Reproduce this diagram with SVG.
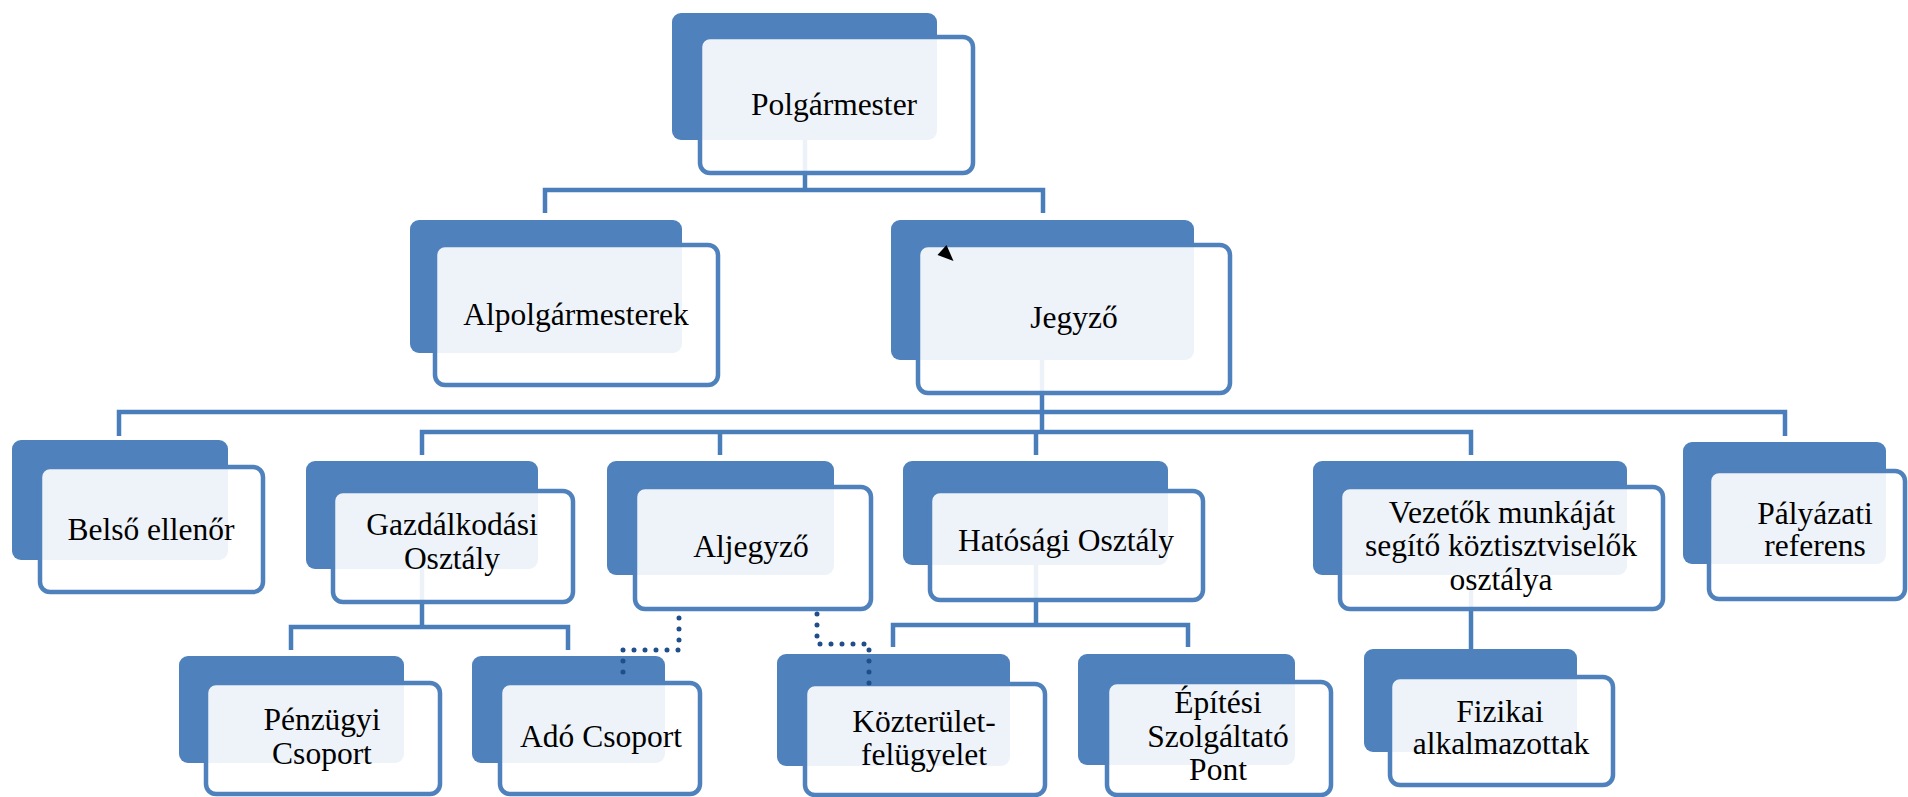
<svg xmlns="http://www.w3.org/2000/svg" width="1908" height="797" viewBox="0 0 1908 797" font-family="Liberation Serif, DejaVu Serif, Noto Serif, Times New Roman, serif">
<style>
.back{fill:#4F81BD;}
.front{fill:#FFFFFF;fill-opacity:0.9;stroke:#4F81BD;stroke-width:4.5;}
.t{font-size:31.5px;fill:#000;text-anchor:middle;}
.conn{fill:none;stroke:#4A7EBB;stroke-width:4.5;}
.dot{fill:none;stroke:#1F4E8A;stroke-width:5;stroke-dasharray:0 11;stroke-linecap:round;}
</style>
<rect width="1908" height="797" fill="#FFFFFF"/>
<g id="connectors">
<path class="conn" d="M805,140 V190"/>
<path class="conn" d="M545,213 V190 H1043 V213"/>
<path class="conn" d="M1042,360 V432"/>
<path class="conn" d="M119,436 V412 H1785 V436"/>
<path class="conn" d="M422,455 V432 H1471 V455"/>
<path class="conn" d="M720,432 V455"/>
<path class="conn" d="M1036,432 V455"/>
<path class="conn" d="M422,569 V627"/>
<path class="conn" d="M291,650 V627 H568 V650"/>
<path class="conn" d="M1036,565 V625"/>
<path class="conn" d="M893,647 V625 H1188 V647"/>
<path class="conn" d="M1471,575 V649"/>
</g>
<g id="polgarmester">
<rect class="back" x="672" y="13" width="265" height="127" rx="9"/>
<rect class="front" x="700" y="37" width="273" height="136" rx="10"/>
<text class="t" x="834" y="115" font-family="Liberation Serif, serif">Polgármester</text>
</g>
<g id="alpolgarmesterek">
<rect class="back" x="410" y="220" width="272" height="133" rx="9"/>
<rect class="front" x="435" y="245" width="283" height="140" rx="10"/>
<text class="t" x="576" y="325">Alpolgármesterek</text>
</g>
<g id="jegyzo">
<rect class="back" x="891" y="220" width="303" height="140" rx="9"/>
<rect class="front" x="918" y="245" width="312" height="148" rx="10"/>
<text class="t" x="1074" y="328">Jegyző</text>
<polygon points="946.5,245 937.5,255 953.5,261" fill="#000"/>
</g>
<g id="belso-ellenor">
<rect class="back" x="12" y="440" width="216" height="120" rx="9"/>
<rect class="front" x="40" y="467" width="223" height="125" rx="10"/>
<text class="t" x="151" y="540">Belső ellenőr</text>
</g>
<g id="gazdalkodasi">
<rect class="back" x="306" y="461" width="232" height="108" rx="9"/>
<rect class="front" x="333" y="491" width="240" height="111" rx="10"/>
<text class="t" x="452" y="535">Gazdálkodási</text>
<text class="t" x="452" y="569">Osztály</text>
</g>
<g id="aljegyzo">
<rect class="back" x="607" y="461" width="227" height="114" rx="9"/>
<rect class="front" x="635" y="487" width="236" height="122" rx="10"/>
<text class="t" x="751" y="557">Aljegyző</text>
</g>
<g id="hatosagi">
<rect class="back" x="903" y="461" width="265" height="104" rx="9"/>
<rect class="front" x="930" y="491" width="273" height="109" rx="10"/>
<text class="t" x="1066" y="551">Hatósági Osztály</text>
</g>
<g id="vezetok">
<rect class="back" x="1313" y="461" width="314" height="114" rx="9"/>
<rect class="front" x="1340" y="487" width="323" height="122" rx="10"/>
<text class="t" x="1502" y="523">Vezetők munkáját</text>
<text class="t" x="1501" y="556">segítő köztisztviselők</text>
<text class="t" x="1501" y="590">osztálya</text>
</g>
<g id="palyazati">
<rect class="back" x="1683" y="442" width="203" height="122" rx="9"/>
<rect class="front" x="1709" y="471" width="196" height="128" rx="10"/>
<text class="t" x="1815" y="524">Pályázati</text>
<text class="t" x="1815" y="556">referens</text>
</g>
<g id="penzugyi">
<rect class="back" x="179" y="656" width="225" height="107" rx="9"/>
<rect class="front" x="206" y="683" width="234" height="111" rx="10"/>
<text class="t" x="322" y="730">Pénzügyi</text>
<text class="t" x="322" y="764">Csoport</text>
</g>
<g id="ado">
<rect class="back" x="472" y="656" width="193" height="107" rx="9"/>
<rect class="front" x="500" y="683" width="200" height="111" rx="10"/>
<text class="t" x="601" y="747">Adó Csoport</text>
</g>
<g id="kozterulet">
<rect class="back" x="777" y="654" width="233" height="112" rx="9"/>
<rect class="front" x="805" y="684" width="240" height="111" rx="10"/>
<text class="t" x="924" y="732">Közterület-</text>
<text class="t" x="924" y="765">felügyelet</text>
</g>
<g id="epitesi">
<rect class="back" x="1078" y="654" width="217" height="111" rx="9"/>
<rect class="front" x="1107" y="682" width="224" height="113" rx="10"/>
<text class="t" x="1218" y="713">Építési</text>
<text class="t" x="1218" y="747">Szolgáltató</text>
<text class="t" x="1218" y="780">Pont</text>
</g>
<g id="fizikai">
<rect class="back" x="1364" y="649" width="213" height="103" rx="9"/>
<rect class="front" x="1390" y="677" width="223" height="108" rx="10"/>
<text class="t" x="1500" y="722">Fizikai</text>
<text class="t" x="1501" y="754">alkalmazottak</text>
</g>
<g id="connectors-dotted">
<path class="dot" d="M679,618 V650 H623 V673"/>
<path class="dot" d="M817,614 V644 H869 V684"/>
</g>
</svg>
